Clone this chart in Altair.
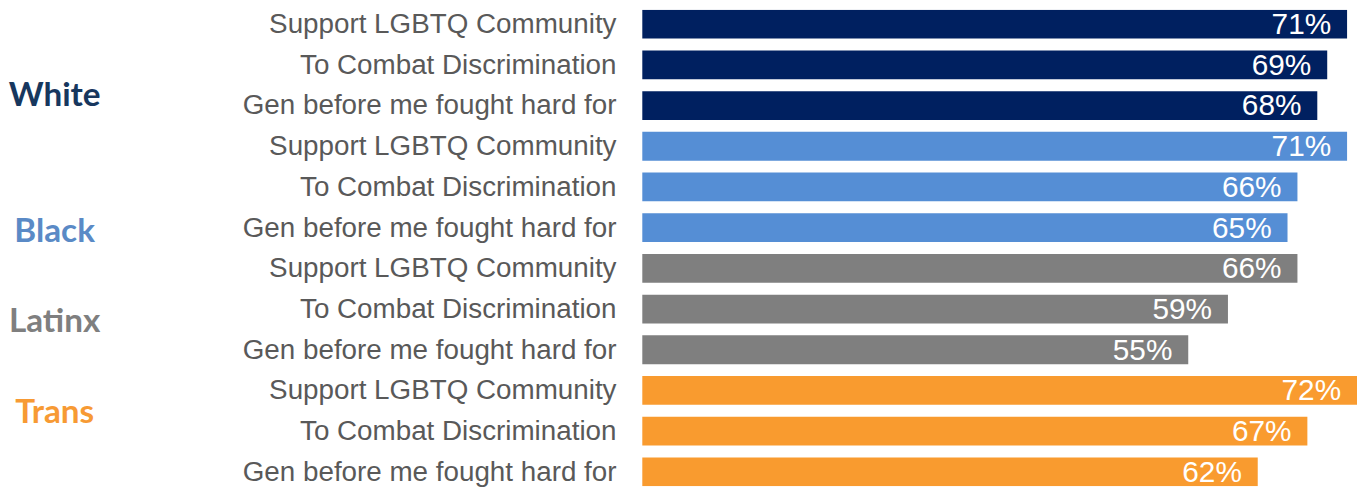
import altair as alt
import pandas as pd

groups = ["White", "White", "White", "Black", "Black", "Black",
          "Latinx", "Latinx", "Latinx", "Trans", "Trans", "Trans"]
reasons = ["Support LGBTQ Community", "To Combat Discrimination", "Gen before me fought hard for"] * 4
values = [71, 69, 68, 71, 66, 65, 66, 59, 55, 72, 67, 62]

group_names = ["White", "Black", "Latinx", "Trans"]
group_colors = ["#002060", "#558ED5", "#7F7F7F", "#F99B2F"]
group_label_colors = ["#17375E", "#5A8AC6", "#7F7F7F", "#F79A34"]
group_label_pos = [1.77, 5.11, 7.33, 9.55]

df = pd.DataFrame({
    "row": list(range(len(values))),
    "group": groups,
    "reason": reasons,
    "value": values,
})
df["label"] = df["value"].astype(str) + "%"

gdf = pd.DataFrame({"group": group_names, "pos": group_label_pos})

W, H = 1359, 480
xscale = alt.Scale(domain=[-63.9, (W - 639) / 10.0], nice=False, zero=False, padding=0)
yscale = alt.Scale(domain=[-14.5 / 41, -14.5 / 41 + H / 41], nice=False, zero=False,
                   reverse=True, padding=0)
color = alt.Color("group:N", scale=alt.Scale(domain=group_names, range=group_colors), legend=None)

base = alt.Chart(df)

bars = base.mark_bar(size=29, orient="horizontal", clip=True).encode(
    x=alt.X("value:Q", scale=xscale, axis=None),
    x2=alt.datum(0),
    y=alt.Y("row:Q", scale=yscale, axis=None),
    color=color,
)

vals = base.mark_text(align="right", baseline="middle", dx=-16, dy=1, fontSize=30,
                      font="Liberation Sans", color="white").encode(
    x=alt.X("value:Q", scale=xscale),
    y=alt.Y("row:Q", scale=yscale),
    text="label:N",
)

labels = base.mark_text(align="right", baseline="middle", dx=-26, dy=1, fontSize=28,
                        font="Liberation Sans", color="#595959").encode(
    x=alt.datum(0, scale=xscale),
    y=alt.Y("row:Q", scale=yscale),
    text="reason:N",
)

glabels = alt.Chart(gdf).mark_text(align="center", baseline="middle", fontSize=33.5,
                                   font="Lato", fontWeight="bold").encode(
    x=alt.value(47),
    y=alt.Y("pos:Q", scale=yscale),
    text="group:N",
    color=alt.Color("group:N", scale=alt.Scale(domain=group_names, range=group_label_colors), legend=None),
)

chart = alt.layer(bars, vals, labels, glabels).resolve_scale(color="independent").properties(
    width=W, height=H,
    autosize=alt.AutoSizeParams(type="none"),
    padding=0,
).configure_view(stroke=None)

chart.save("out.html", embed_options={"renderer": "svg", "actions": False})
